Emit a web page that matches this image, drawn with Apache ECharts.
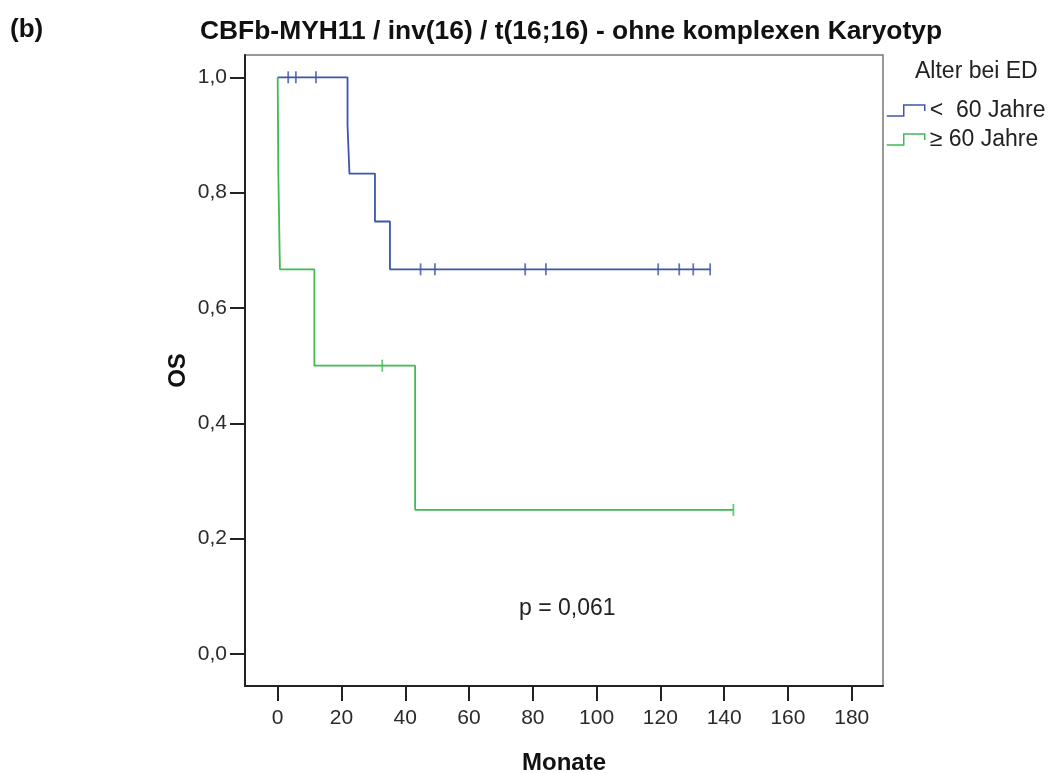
<!DOCTYPE html>
<html>
<head>
<meta charset="utf-8">
<title>CBFb-MYH11 OS</title>
<script src="https://cdn.jsdelivr.net/npm/echarts@6/dist/echarts.min.js"></script>
<style>
  html, body { margin: 0; padding: 0; background: #fff; }
  #chart { width: 1050px; height: 773px; }
</style>
</head>
<body>
<div id="chart"></div>
<script>
  // Kaplan-Meier Stufen (Zeit in Monaten, OS-Anteil)
  const group_names = ['<  60 Jahre', '≥ 60 Jahre']
  const young_times = [0, 21.9, 22.5, 30.5, 35.2, 135.6]
  const young_surv = [1, 0.917, 0.833, 0.75, 0.667, 0.667]
  const young_censor = [3.3, 5.7, 12.0, 44.8, 49.3, 77.6, 84.1, 119.3, 125.9, 130.3, 135.6]
  const old_times = [0, 0.2, 0.7, 11.5, 43.1, 142.9]
  const old_surv = [1, 0.833, 0.667, 0.5, 0.25, 0.25]
  const old_censor = [32.8, 142.9]
  const x_ticks = [0, 20, 40, 60, 80, 100, 120, 140, 160, 180]
  const y_ticks = [0, 0.2, 0.4, 0.6, 0.8, 1.0]

  const colors = ['#3d55b0', '#3fbb52']
  const font = 'Liberation Sans, Arial, sans-serif'

  function steps(times, surv) {
    return times.map((t, i) => [t, surv[i]])
  }
  // Zensierungen sitzen auf der Kurve
  function censorPoints(censor, times, surv) {
    return censor.map(c => {
      let s = surv[0]
      for (let i = 0; i < times.length; i++) {
        if (times[i] <= c) s = surv[i]
      }
      return [c, s]
    })
  }

  const chart = echarts.init(document.getElementById('chart'), null, { renderer: 'canvas' })

  const curves = [
    { name: group_names[0], data: steps(young_times, young_surv), censor: censorPoints(young_censor, young_times, young_surv) },
    { name: group_names[1], data: steps(old_times, old_surv), censor: censorPoints(old_censor, old_times, old_surv) }
  ]

  const series = []
  curves.forEach((c, i) => {
    series.push({
      type: 'line',
      name: c.name,
      step: 'end',
      data: c.data,
      showSymbol: false,
      symbol: 'none',
      lineStyle: { color: colors[i], width: 1.8 },
      itemStyle: { color: colors[i] },
      animation: false,
      z: 3
    })
    series.push({
      type: 'scatter',
      name: c.name,
      data: c.censor,
      symbol: 'rect',
      symbolSize: [1.8, 12],
      itemStyle: { color: colors[i] },
      animation: false,
      z: 4
    })
  })

  const stepIcon = 'path://M0,11 L17,11 L17,0 L38,0 L38,6'

  chart.setOption({
    backgroundColor: '#fff',
    textStyle: { fontFamily: font },
    title: [
      {
        text: '(b)',
        left: 10,
        top: 17,
        padding: 0,
        textStyle: { fontFamily: font, fontSize: 26, fontWeight: 'bold', color: '#111' }
      },
      {
        text: 'CBFb-MYH11 / inv(16) / t(16;16) - ohne komplexen Karyotyp',
        left: 200,
        top: 19,
        padding: 0,
        textStyle: { fontFamily: font, fontSize: 26.4, fontWeight: 'bold', color: '#111' }
      },
      {
        text: 'Alter bei ED',
        left: 915,
        top: 60,
        padding: 0,
        textStyle: { fontFamily: font, fontSize: 23, fontWeight: 'normal', color: '#222' }
      }
    ],
    legend: {
      orient: 'vertical',
      left: 886,
      top: 99,
      padding: 0,
      itemWidth: 38,
      itemHeight: 11,
      itemGap: 6,
      textStyle: { fontFamily: font, fontSize: 23, color: '#222' },
      data: group_names.map((n, i) => ({
        name: n,
        icon: stepIcon,
        itemStyle: { color: 'rgba(0,0,0,0)', borderColor: colors[i], borderWidth: 1.5 }
      }))
    },
    grid: {
      left: 245,
      top: 55,
      width: 638,
      height: 631,
      outerBoundsMode: 'none',
      show: true,
      borderColor: '#777',
      borderWidth: 1.5,
      backgroundColor: '#fff'
    },
    xAxis: {
      type: 'value',
      min: -10.25,
      max: 189.8,
      name: 'Monate',
      nameLocation: 'middle',
      nameGap: 65,
      nameMoveOverlap: false,
      nameTextStyle: { fontFamily: font, fontSize: 24, fontWeight: 'bold', color: '#111' },
      splitLine: { show: false },
      axisLine: { onZero: false, lineStyle: { color: '#222', width: 2 } },
      axisTick: { show: true, length: 15, lineStyle: { color: '#222', width: 2 }, customValues: x_ticks },
      axisLabel: { margin: 22, fontSize: 21, color: '#2a2a2a', customValues: x_ticks }
    },
    yAxis: {
      type: 'value',
      min: -0.0555,
      max: 1.0387,
      name: 'OS',
      nameLocation: 'middle',
      nameGap: 55,
      nameMoveOverlap: false,
      nameTextStyle: { fontFamily: font, fontSize: 24, fontWeight: 'bold', color: '#111' },
      splitLine: { show: false },
      axisLine: { onZero: false, lineStyle: { color: '#222', width: 2 } },
      axisTick: { show: true, length: 15, lineStyle: { color: '#222', width: 2 }, customValues: y_ticks },
      axisLabel: {
        margin: 18,
        fontSize: 21,
        color: '#2a2a2a',
        customValues: y_ticks,
        formatter: v => v.toFixed(1).replace('.', ',')
      }
    },
    graphic: [
      {
        type: 'text',
        left: 519,
        top: 597,
        style: { text: 'p = 0,061', font: '23px ' + font, fill: '#222' }
      }
    ],
    series: series
  })
</script>
</body>
</html>
